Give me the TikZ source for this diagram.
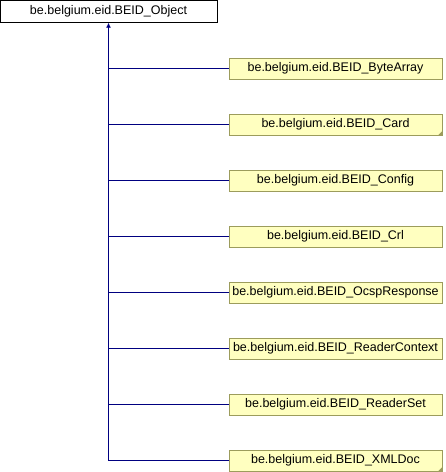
\documentclass[tikz,border=0pt]{standalone}
\usepackage{fontspec}
\setmainfont{Liberation Sans}
\usetikzlibrary{arrows.meta}
\definecolor{doxyfill}{HTML}{FFFFC0}
\definecolor{doxyedge}{HTML}{9C9C5C}
\definecolor{doxylink}{HTML}{000080}
\tikzset{
    base/.style={draw=black, fill=white, minimum width=217pt, minimum height=22pt,
        inner sep=0pt, font=\fontsize{12.5}{14}\selectfont},
    derived/.style={draw=doxyedge, fill=doxyfill, minimum width=213pt, minimum height=21pt,
        inner sep=0pt, font=\fontsize{12.5}{14}\selectfont},
    link/.style={draw=doxylink, line width=0.9pt},
}
\begin{document}
\begin{tikzpicture}[x=1pt, y=-1pt]
\useasboundingbox (0,0) rectangle (446,472);
\node[base] (object) at (108.5,11.5) {be.belgium.eid.BEID\_Object};
\foreach \cls [count=\i from 0] in {ByteArray, Card, Config, Crl, OcspResponse, ReaderContext, ReaderSet, XMLDoc}
{
    \node[derived] (\cls) at (335.5,68.5+56*\i) {be.belgium.eid.BEID\_\cls};
    \coordinate (turn\cls) at (object.south |- \cls.west);
    \draw[link] (turn\cls) -- (\cls.west);
}
% corner marks
\foreach \cls in {Card, XMLDoc}
    \fill[doxyedge] (\cls.south east) -- ++(-4,0) -- ++(4,-4) -- cycle;
\draw[link, -{Latex[length=5pt, width=5pt]}] (turnXMLDoc) -- (object.south);
\end{tikzpicture}
\end{document}
